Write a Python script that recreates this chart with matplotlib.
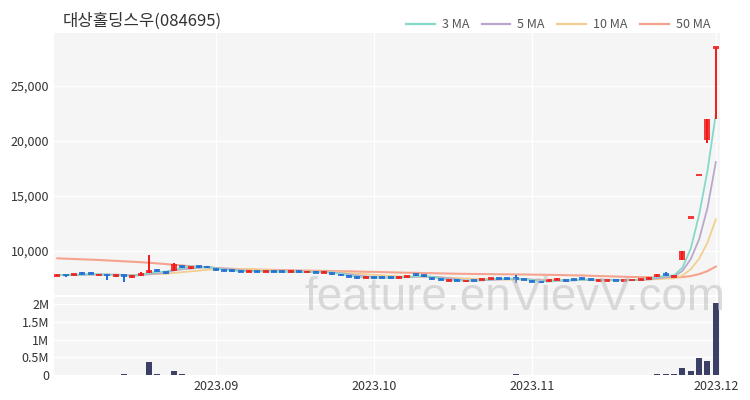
import numpy as np
import pandas as pd
import matplotlib.pyplot as plt
from matplotlib.lines import Line2D

plt.rcParams['font.family'] = ['Noto Sans CJK KR', 'DejaVu Sans']

title = '대상홀딩스우(084695)'

# daily candles, 2023-08-04 .. 2023-12-01 (trading days)
opens = [7800, 7850, 7780, 8050, 8050, 7800, 7850, 7750, 7820, 7650,
         7780, 8000, 8300, 8100, 8200, 8600, 8450, 8600, 8600, 8350,
         8250, 8200, 8180, 8150, 8160, 8130, 8150, 8120, 8100, 8120,
         8080, 8100, 8060, 8000, 7880, 7760, 7650, 7520, 7640, 7600,
         7600, 7600, 7620, 7860, 7780, 7520, 7420, 7280, 7320, 7260,
         7360, 7380, 7440, 7520, 7520, 7520, 7400, 7250, 7200, 7250,
         7330, 7350, 7420, 7480, 7420, 7300, 7340, 7360, 7340, 7360,
         7400, 7480, 7620, 7980, 7680, 9200, 13010, 16900, 20100, 28500]
highs = [7850, 7860, 7950, 8100, 8100, 7870, 7870, 7850, 7850, 7780,
         8050, 9650, 8350, 8120, 8950, 8650, 8560, 8650, 8650, 8400,
         8300, 8250, 8220, 8200, 8220, 8200, 8200, 8180, 8150, 8150,
         8150, 8150, 8150, 8020, 7900, 7780, 7680, 7640, 7660, 7650,
         7650, 7660, 7760, 7880, 7800, 7540, 7440, 7360, 7340, 7300,
         7400, 7480, 7500, 7540, 7540, 7850, 7420, 7270, 7220, 7380,
         7550, 7360, 7440, 7500, 7430, 7360, 7380, 7380, 7360, 7380,
         7480, 7600, 7920, 8050, 7750, 10010, 13010, 16900, 22000, 28500]
lows = [7750, 7650, 7780, 7880, 7880, 7780, 7350, 7600, 7150, 7550,
        7760, 8000, 8100, 7950, 8150, 8450, 8400, 8480, 8450, 8200,
        8150, 8120, 8100, 8100, 8100, 8080, 8100, 8080, 8050, 8050,
        8050, 8050, 8030, 7850, 7720, 7620, 7480, 7500, 7550, 7550,
        7560, 7560, 7600, 7760, 7680, 7400, 7330, 7260, 7260, 7220,
        7320, 7360, 7420, 7460, 7470, 7060, 7330, 7180, 7130, 7240,
        7320, 7280, 7380, 7420, 7360, 7280, 7320, 7320, 7320, 7330,
        7380, 7470, 7600, 7700, 7650, 9150, 13010, 16900, 19800, 21950]
closes = [7820, 7780, 7870, 7900, 7920, 7840, 7780, 7820, 7700, 7740,
          8000, 8200, 8150, 7980, 8850, 8500, 8520, 8500, 8480, 8250,
          8200, 8180, 8150, 8160, 8130, 8150, 8120, 8100, 8120, 8080,
          8100, 8060, 8100, 7880, 7760, 7660, 7520, 7620, 7580, 7580,
          7590, 7620, 7720, 7800, 7700, 7420, 7360, 7320, 7280, 7280,
          7340, 7460, 7480, 7480, 7490, 7480, 7360, 7200, 7150, 7350,
          7420, 7300, 7400, 7440, 7380, 7340, 7360, 7340, 7350, 7360,
          7460, 7580, 7900, 7750, 7700, 10010, 13010, 16900, 21950, 28500]
volumes = [8000, 6000, 9000, 7000, 5000, 6000, 10000, 8000, 22000, 9000,
           12000, 370000, 40000, 12000, 110000, 30000, 10000, 8000, 7000, 6000,
           5000, 5000, 4000, 6000, 5000, 4000, 5000, 4000, 5000, 6000,
           5000, 4000, 6000, 9000, 8000, 7000, 9000, 6000, 7000, 5000,
           5000, 6000, 10000, 12000, 8000, 9000, 8000, 7000, 6000, 5000,
           6000, 7000, 8000, 6000, 5000, 15000, 8000, 9000, 7000, 8000,
           12000, 7000, 6000, 5000, 6000, 9000, 7000, 6000, 8000, 9000,
           12000, 14000, 30000, 28000, 20000, 200000, 110000, 480000, 400000, 2030000]

ma50_head = [9330, 9300, 9270, 9240, 9210, 9180, 9140, 9100, 9060, 9020,
             8980, 8930, 8870, 8810, 8740, 8680, 8620, 8560, 8500, 8450,
             8410, 8380, 8350, 8330, 8310, 8290, 8280, 8260, 8250, 8230,
             8220, 8200, 8190, 8180, 8160, 8150, 8130, 8110, 8100, 8080,
             8060, 8040, 8020, 8010, 7990, 7980, 7960, 7950, 7930]

tick_pos = [19, 38, 57, 79]
tick_labels = ['2023.09', '2023.10', '2023.11', '2023.12']

x = np.arange(len(closes))
o = np.array(opens, dtype=float)
c = np.array(closes, dtype=float)
cl = pd.Series(c)
ma3 = cl.rolling(3, min_periods=1).mean()
ma5 = cl.rolling(5, min_periods=1).mean()
ma10 = cl.rolling(10, min_periods=1).mean()
ma50 = cl.rolling(50).mean()
ma50[:len(ma50_head)] = ma50_head

RED = '#f21a1a'
BLUE = '#1f6cd3'
colors = [RED if cc >= oo else BLUE for oo, cc in zip(o, c)]

fig = plt.figure(figsize=(7.5, 4), dpi=100)
ax = fig.add_axes([0.072, 0.2625, 0.888, 0.655])
axv = fig.add_axes([0.072, 0.0625, 0.888, 0.195], sharex=ax)

for a in (ax, axv):
    a.set_facecolor('#f5f5f5')
    for s in a.spines.values():
        s.set_visible(False)
    a.tick_params(length=0, labelsize=9, colors='#333333')
    a.grid(True, color='white', lw=1)
    a.set_axisbelow(True)

ma_cols = ['#86d9c9', '#b9a8cc', '#f2cf91', '#f5a38f']
ax.plot(x, ma50, color=ma_cols[3], lw=1.5, zorder=2)
ax.plot(x, ma10, color=ma_cols[2], lw=1.3, zorder=2)
ax.plot(x, ma5, color=ma_cols[1], lw=1.3, zorder=2)
ax.plot(x, ma3, color=ma_cols[0], lw=1.3, zorder=2)

# candles
ax.vlines(x, lows, highs, color=colors, lw=1.4, zorder=3)
minh = 260
diff = np.abs(c - o)
bh = np.maximum(diff, minh)
bb = np.where(diff >= minh, np.minimum(o, c), (o + c) / 2 - minh / 2)
ax.bar(x, bh, bottom=bb, width=0.72, color=colors, alpha=0.85, zorder=3)

ax.set_ylim(6000, 29800)
ax.set_yticks([10000, 15000, 20000, 25000])
ax.set_yticklabels([f'{v:,}' for v in [10000, 15000, 20000, 25000]])
ax.set_xlim(-0.4, 79.5)
ax.set_xticks(tick_pos)
ax.tick_params(labelbottom=False)

axv.bar(x, volumes, width=0.72, color='#3d4066', zorder=2)
axv.set_ylim(0, 2.2e6)
axv.set_yticks([0, 0.5e6, 1e6, 1.5e6, 2e6])
axv.set_yticklabels(['0', '0.5M', '1M', '1.5M', '2M'])
axv.set_xticks(tick_pos)
axv.set_xticklabels(tick_labels)

fig.text(63 / 750, 1 - 21 / 400, title, fontsize=12, color='#333333', va='center')

handles = [Line2D([], [], color=col, lw=1.6) for col in ma_cols]
fig.legend(handles, ['3 MA', '5 MA', '10 MA', '50 MA'], loc='center right',
           bbox_to_anchor=(0.955, 1 - 25 / 400), ncol=4, frameon=False,
           fontsize=9, handlelength=2.3, handletextpad=0.55, columnspacing=1.0,
           borderpad=0, labelcolor='#555555')

fig.text(515 / 750, 1 - 298 / 400, 'feature.enVievV.com', fontsize=33,
         family='Liberation Sans', color='#c0c0c0', alpha=0.55,
         ha='center', va='center', zorder=10)

fig.savefig('out.png', dpi=100)
